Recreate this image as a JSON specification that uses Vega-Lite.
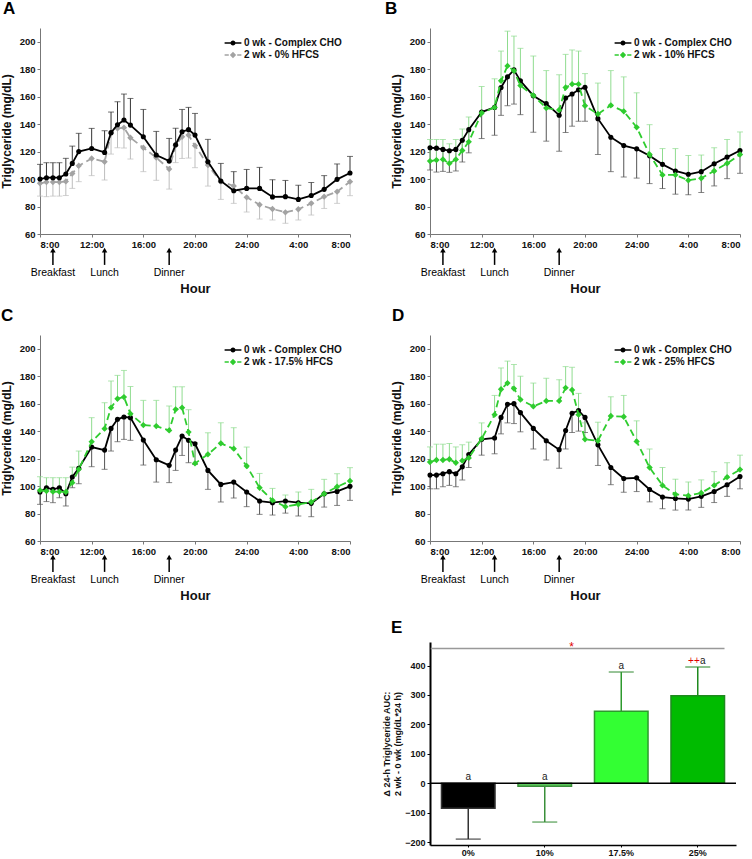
{
  "$schema": "https://vega.github.io/schema/vega-lite/v6.json",
  "padding": {"left": 0, "top": 0, "right": 5, "bottom": 0},
  "columns": 2,
  "spacing": {"row": 101, "column": 80},
  "bounds": "flush",
  "resolve": {"scale": {"color": "independent", "fill": "independent", "stroke": "independent", "shape": "independent", "size": "independent", "strokeDash": "independent"}},
  "config": {
    "font": "Liberation Sans",
    "view": {"stroke": null},
    "axis": {"grid": false, "labelOverlap": false, "labelFont": "Liberation Sans", "labelFontSize": 9.5, "labelFontWeight": "bold", "labelColor": "#111", "domainColor": "#777", "tickColor": "#777", "tickSize": 3, "labelPadding": 2, "titleFont": "Liberation Sans", "titleFontWeight": "bold", "titleColor": "#111"},
    "legend": {"labelFont": "Liberation Sans", "labelFontSize": 10, "labelFontWeight": "bold", "labelColor": "#111", "rowPadding": 0, "labelOffset": 4, "symbolStrokeWidth": 0, "symbolSize": 196, "symbolOpacity": 1, "orient": "top-right", "offset": 8},
    "title": {"anchor": "start", "fontSize": 17, "fontWeight": "bold", "frame": "group", "offset": 10, "baseline": "alphabetic", "color": "#000"}
  },
  "datasets": {
    "meals": [{"hour": 1, "meal": "Breakfast"}, {"hour": 5, "meal": "Lunch"}, {"hour": 10, "meal": "Dinner"}],
    "A": [
      {"hour":0,"series":"0 wk - Complex CHO","mean":100,"bar":110.7},
      {"hour":0.5,"series":"0 wk - Complex CHO","mean":101,"bar":111.9},
      {"hour":1,"series":"0 wk - Complex CHO","mean":101,"bar":111.9},
      {"hour":1.5,"series":"0 wk - Complex CHO","mean":101,"bar":111.9},
      {"hour":2,"series":"0 wk - Complex CHO","mean":103.7,"bar":115.1},
      {"hour":2.5,"series":"0 wk - Complex CHO","mean":111.4,"bar":124},
      {"hour":3,"series":"0 wk - Complex CHO","mean":120,"bar":133.3},
      {"hour":4,"series":"0 wk - Complex CHO","mean":122.3,"bar":136.9},
      {"hour":5,"series":"0 wk - Complex CHO","mean":119.4,"bar":135.2},
      {"hour":5.5,"series":"0 wk - Complex CHO","mean":133.8,"bar":148.8},
      {"hour":6,"series":"0 wk - Complex CHO","mean":139.6,"bar":156.3},
      {"hour":6.5,"series":"0 wk - Complex CHO","mean":143,"bar":161.9},
      {"hour":7,"series":"0 wk - Complex CHO","mean":139.3,"bar":158.7},
      {"hour":8,"series":"0 wk - Complex CHO","mean":130.8,"bar":150.7},
      {"hour":9,"series":"0 wk - Complex CHO","mean":117.5,"bar":134.7},
      {"hour":10,"series":"0 wk - Complex CHO","mean":113.1,"bar":129.6},
      {"hour":10.5,"series":"0 wk - Complex CHO","mean":125,"bar":137},
      {"hour":11,"series":"0 wk - Complex CHO","mean":134.5,"bar":150.7},
      {"hour":11.5,"series":"0 wk - Complex CHO","mean":136,"bar":152.2},
      {"hour":12,"series":"0 wk - Complex CHO","mean":132,"bar":147.8},
      {"hour":13,"series":"0 wk - Complex CHO","mean":112.6,"bar":128.9},
      {"hour":14,"series":"0 wk - Complex CHO","mean":98.6,"bar":111.4},
      {"hour":15,"series":"0 wk - Complex CHO","mean":91.5,"bar":105.4},
      {"hour":16,"series":"0 wk - Complex CHO","mean":93.2,"bar":107},
      {"hour":17,"series":"0 wk - Complex CHO","mean":93.2,"bar":108.5},
      {"hour":18,"series":"0 wk - Complex CHO","mean":87,"bar":99.5},
      {"hour":19,"series":"0 wk - Complex CHO","mean":87.2,"bar":99},
      {"hour":20,"series":"0 wk - Complex CHO","mean":85.2,"bar":95.5},
      {"hour":21,"series":"0 wk - Complex CHO","mean":88,"bar":97.5},
      {"hour":22,"series":"0 wk - Complex CHO","mean":92.5,"bar":102.5},
      {"hour":23,"series":"0 wk - Complex CHO","mean":99.8,"bar":111},
      {"hour":24,"series":"0 wk - Complex CHO","mean":104.4,"bar":116.5},
      {"hour":0,"series":"2 wk - 0% HFCS","mean":96.9,"bar":87.6},
      {"hour":0.5,"series":"2 wk - 0% HFCS","mean":97.8,"bar":87.2},
      {"hour":1,"series":"2 wk - 0% HFCS","mean":97.8,"bar":87.6},
      {"hour":1.5,"series":"2 wk - 0% HFCS","mean":97.8,"bar":87.6},
      {"hour":2,"series":"2 wk - 0% HFCS","mean":98.3,"bar":88},
      {"hour":2.5,"series":"2 wk - 0% HFCS","mean":104,"bar":93.2},
      {"hour":3,"series":"2 wk - 0% HFCS","mean":109.7,"bar":98.1},
      {"hour":4,"series":"2 wk - 0% HFCS","mean":115,"bar":102.5},
      {"hour":5,"series":"2 wk - 0% HFCS","mean":112.6,"bar":99.3},
      {"hour":5.5,"series":"2 wk - 0% HFCS","mean":133.3,"bar":118.2},
      {"hour":6,"series":"2 wk - 0% HFCS","mean":136.9,"bar":122.8},
      {"hour":6.5,"series":"2 wk - 0% HFCS","mean":137.4,"bar":122.6},
      {"hour":7,"series":"2 wk - 0% HFCS","mean":130.1,"bar":114.6},
      {"hour":8,"series":"2 wk - 0% HFCS","mean":122.8,"bar":105.4},
      {"hour":9,"series":"2 wk - 0% HFCS","mean":115.6,"bar":99.1},
      {"hour":10,"series":"2 wk - 0% HFCS","mean":107.3,"bar":92.7},
      {"hour":10.5,"series":"2 wk - 0% HFCS","mean":124.5,"bar":112},
      {"hour":11,"series":"2 wk - 0% HFCS","mean":130.8,"bar":115},
      {"hour":11.5,"series":"2 wk - 0% HFCS","mean":132,"bar":115.3},
      {"hour":12,"series":"2 wk - 0% HFCS","mean":124.3,"bar":108.3},
      {"hour":13,"series":"2 wk - 0% HFCS","mean":110.2,"bar":94.9},
      {"hour":14,"series":"2 wk - 0% HFCS","mean":98.1,"bar":85.2},
      {"hour":15,"series":"2 wk - 0% HFCS","mean":95,"bar":82.3},
      {"hour":16,"series":"2 wk - 0% HFCS","mean":86.7,"bar":76},
      {"hour":17,"series":"2 wk - 0% HFCS","mean":81.3,"bar":70.9},
      {"hour":18,"series":"2 wk - 0% HFCS","mean":78.2,"bar":70.2},
      {"hour":19,"series":"2 wk - 0% HFCS","mean":75.8,"bar":67.8},
      {"hour":20,"series":"2 wk - 0% HFCS","mean":78,"bar":70.2},
      {"hour":21,"series":"2 wk - 0% HFCS","mean":82.3,"bar":73.8},
      {"hour":22,"series":"2 wk - 0% HFCS","mean":87.2,"bar":78.6},
      {"hour":23,"series":"2 wk - 0% HFCS","mean":90.8,"bar":82.3},
      {"hour":24,"series":"2 wk - 0% HFCS","mean":98.1,"bar":87.9}
    ],
    "B": [
      {"hour":0,"series":"0 wk - Complex CHO","mean":122.8,"bar":106.6},
      {"hour":0.5,"series":"0 wk - Complex CHO","mean":122.5,"bar":105.1},
      {"hour":1,"series":"0 wk - Complex CHO","mean":121.6,"bar":105.6},
      {"hour":1.5,"series":"0 wk - Complex CHO","mean":120.6,"bar":104.9},
      {"hour":2,"series":"0 wk - Complex CHO","mean":121.6,"bar":105.9},
      {"hour":2.5,"series":"0 wk - Complex CHO","mean":128.3,"bar":112.4},
      {"hour":3,"series":"0 wk - Complex CHO","mean":136,"bar":119.1},
      {"hour":4,"series":"0 wk - Complex CHO","mean":148.8,"bar":129.5},
      {"hour":5,"series":"0 wk - Complex CHO","mean":152.2,"bar":131.9},
      {"hour":5.5,"series":"0 wk - Complex CHO","mean":166.7,"bar":146.4},
      {"hour":6,"series":"0 wk - Complex CHO","mean":174.4,"bar":153.4},
      {"hour":6.5,"series":"0 wk - Complex CHO","mean":179.5,"bar":154.6},
      {"hour":7,"series":"0 wk - Complex CHO","mean":171.5,"bar":146.9},
      {"hour":8,"series":"0 wk - Complex CHO","mean":160.7,"bar":134.1},
      {"hour":9,"series":"0 wk - Complex CHO","mean":154.9,"bar":127.6},
      {"hour":10,"series":"0 wk - Complex CHO","mean":146.5,"bar":120.3},
      {"hour":10.5,"series":"0 wk - Complex CHO","mean":159,"bar":133.9},
      {"hour":11,"series":"0 wk - Complex CHO","mean":161.9,"bar":138.5},
      {"hour":11.5,"series":"0 wk - Complex CHO","mean":165,"bar":142.1},
      {"hour":12,"series":"0 wk - Complex CHO","mean":166.9,"bar":142.1},
      {"hour":13,"series":"0 wk - Complex CHO","mean":144,"bar":117.9},
      {"hour":14,"series":"0 wk - Complex CHO","mean":130.5,"bar":105.4},
      {"hour":15,"series":"0 wk - Complex CHO","mean":124.4,"bar":101.5},
      {"hour":16,"series":"0 wk - Complex CHO","mean":122,"bar":100.7},
      {"hour":17,"series":"0 wk - Complex CHO","mean":117,"bar":96.7},
      {"hour":18,"series":"0 wk - Complex CHO","mean":110.7,"bar":93.1},
      {"hour":19,"series":"0 wk - Complex CHO","mean":105.9,"bar":89},
      {"hour":20,"series":"0 wk - Complex CHO","mean":103.5,"bar":88.5},
      {"hour":21,"series":"0 wk - Complex CHO","mean":105.4,"bar":90.2},
      {"hour":22,"series":"0 wk - Complex CHO","mean":111.2,"bar":95},
      {"hour":23,"series":"0 wk - Complex CHO","mean":116,"bar":100.3},
      {"hour":24,"series":"0 wk - Complex CHO","mean":120.8,"bar":104.2},
      {"hour":0,"series":"2 wk - 10% HFCS","mean":113.1,"bar":128.8},
      {"hour":0.5,"series":"2 wk - 10% HFCS","mean":113.8,"bar":128.8},
      {"hour":1,"series":"2 wk - 10% HFCS","mean":114.3,"bar":128.8},
      {"hour":1.5,"series":"2 wk - 10% HFCS","mean":111.4,"bar":125.7},
      {"hour":2,"series":"2 wk - 10% HFCS","mean":114.3,"bar":128.8},
      {"hour":2.5,"series":"2 wk - 10% HFCS","mean":120.8,"bar":136.5},
      {"hour":3,"series":"2 wk - 10% HFCS","mean":127.1,"bar":145.2},
      {"hour":4,"series":"2 wk - 10% HFCS","mean":148.1,"bar":167.4},
      {"hour":5,"series":"2 wk - 10% HFCS","mean":152.2,"bar":173},
      {"hour":5.5,"series":"2 wk - 10% HFCS","mean":171.5,"bar":193.2},
      {"hour":6,"series":"2 wk - 10% HFCS","mean":182.4,"bar":207.7},
      {"hour":6.5,"series":"2 wk - 10% HFCS","mean":178.8,"bar":204.1},
      {"hour":7,"series":"2 wk - 10% HFCS","mean":168.1,"bar":195.2},
      {"hour":8,"series":"2 wk - 10% HFCS","mean":160.9,"bar":189.6},
      {"hour":9,"series":"2 wk - 10% HFCS","mean":151.7,"bar":179},
      {"hour":10,"series":"2 wk - 10% HFCS","mean":150.3,"bar":175.9},
      {"hour":10.5,"series":"2 wk - 10% HFCS","mean":166.7,"bar":190.8},
      {"hour":11,"series":"2 wk - 10% HFCS","mean":169.1,"bar":194},
      {"hour":11.5,"series":"2 wk - 10% HFCS","mean":169.1,"bar":193.2},
      {"hour":12,"series":"2 wk - 10% HFCS","mean":153.4,"bar":176.8},
      {"hour":13,"series":"2 wk - 10% HFCS","mean":147.4,"bar":169.9},
      {"hour":14,"series":"2 wk - 10% HFCS","mean":153.7,"bar":179},
      {"hour":15,"series":"2 wk - 10% HFCS","mean":149.3,"bar":174.4},
      {"hour":16,"series":"2 wk - 10% HFCS","mean":137.7,"bar":162.8},
      {"hour":17,"series":"2 wk - 10% HFCS","mean":117.9,"bar":139.6},
      {"hour":18,"series":"2 wk - 10% HFCS","mean":103,"bar":122.2},
      {"hour":19,"series":"2 wk - 10% HFCS","mean":103,"bar":122.2},
      {"hour":20,"series":"2 wk - 10% HFCS","mean":99.1,"bar":117.2},
      {"hour":21,"series":"2 wk - 10% HFCS","mean":100.6,"bar":117.5},
      {"hour":22,"series":"2 wk - 10% HFCS","mean":105.9,"bar":122.8},
      {"hour":23,"series":"2 wk - 10% HFCS","mean":111.4,"bar":128.8},
      {"hour":24,"series":"2 wk - 10% HFCS","mean":117.9,"bar":134.3}
    ],
    "C": [
      {"hour":0,"series":"0 wk - Complex CHO","mean":95.7,"bar":86.7},
      {"hour":0.5,"series":"0 wk - Complex CHO","mean":98.8,"bar":88.7},
      {"hour":1,"series":"0 wk - Complex CHO","mean":97.6,"bar":87.9},
      {"hour":1.5,"series":"0 wk - Complex CHO","mean":98.8,"bar":91.5},
      {"hour":2,"series":"0 wk - Complex CHO","mean":94.4,"bar":85.5},
      {"hour":2.5,"series":"0 wk - Complex CHO","mean":106.6,"bar":98.8},
      {"hour":3,"series":"0 wk - Complex CHO","mean":112.9,"bar":101.7},
      {"hour":4,"series":"0 wk - Complex CHO","mean":128.4,"bar":114.1},
      {"hour":5,"series":"0 wk - Complex CHO","mean":126.2,"bar":112.2},
      {"hour":5.5,"series":"0 wk - Complex CHO","mean":142,"bar":125.5},
      {"hour":6,"series":"0 wk - Complex CHO","mean":148.6,"bar":132.3},
      {"hour":6.5,"series":"0 wk - Complex CHO","mean":150.3,"bar":134},
      {"hour":7,"series":"0 wk - Complex CHO","mean":149.8,"bar":133.3},
      {"hour":8,"series":"0 wk - Complex CHO","mean":133.5,"bar":115.3},
      {"hour":9,"series":"0 wk - Complex CHO","mean":119.2,"bar":102.9},
      {"hour":10,"series":"0 wk - Complex CHO","mean":115.1,"bar":102.5},
      {"hour":10.5,"series":"0 wk - Complex CHO","mean":126.2,"bar":111.4},
      {"hour":11,"series":"0 wk - Complex CHO","mean":136.4,"bar":122.3},
      {"hour":11.5,"series":"0 wk - Complex CHO","mean":133.3,"bar":117},
      {"hour":12,"series":"0 wk - Complex CHO","mean":130.8,"bar":115.8},
      {"hour":13,"series":"0 wk - Complex CHO","mean":111.4,"bar":97.6},
      {"hour":14,"series":"0 wk - Complex CHO","mean":101.2,"bar":88.4},
      {"hour":15,"series":"0 wk - Complex CHO","mean":102.9,"bar":91.3},
      {"hour":16,"series":"0 wk - Complex CHO","mean":95.7,"bar":85},
      {"hour":17,"series":"0 wk - Complex CHO","mean":89.1,"bar":79.4},
      {"hour":18,"series":"0 wk - Complex CHO","mean":87.9,"bar":78.9},
      {"hour":19,"series":"0 wk - Complex CHO","mean":89.1,"bar":80.3},
      {"hour":20,"series":"0 wk - Complex CHO","mean":87.9,"bar":78.2},
      {"hour":21,"series":"0 wk - Complex CHO","mean":87.4,"bar":77.7},
      {"hour":22,"series":"0 wk - Complex CHO","mean":94.4,"bar":84.7},
      {"hour":23,"series":"0 wk - Complex CHO","mean":96.1,"bar":85.9},
      {"hour":24,"series":"0 wk - Complex CHO","mean":99.8,"bar":89.6},
      {"hour":0,"series":"2 wk - 17.5% HFCS","mean":96.9,"bar":106.8},
      {"hour":0.5,"series":"2 wk - 17.5% HFCS","mean":96.4,"bar":106.1},
      {"hour":1,"series":"2 wk - 17.5% HFCS","mean":95.9,"bar":106.1},
      {"hour":1.5,"series":"2 wk - 17.5% HFCS","mean":95.9,"bar":106.1},
      {"hour":2,"series":"2 wk - 17.5% HFCS","mean":95.7,"bar":106.1},
      {"hour":2.5,"series":"2 wk - 17.5% HFCS","mean":102.5,"bar":113.8},
      {"hour":3,"series":"2 wk - 17.5% HFCS","mean":112.2,"bar":125.5},
      {"hour":4,"series":"2 wk - 17.5% HFCS","mean":132.3,"bar":149.8},
      {"hour":5,"series":"2 wk - 17.5% HFCS","mean":141.8,"bar":160.7},
      {"hour":5.5,"series":"2 wk - 17.5% HFCS","mean":157.1,"bar":176.5},
      {"hour":6,"series":"2 wk - 17.5% HFCS","mean":163.6,"bar":180.6},
      {"hour":6.5,"series":"2 wk - 17.5% HFCS","mean":164.8,"bar":184.2},
      {"hour":7,"series":"2 wk - 17.5% HFCS","mean":152.7,"bar":172.5},
      {"hour":8,"series":"2 wk - 17.5% HFCS","mean":144.4,"bar":162.4},
      {"hour":9,"series":"2 wk - 17.5% HFCS","mean":143.7,"bar":162.4},
      {"hour":10,"series":"2 wk - 17.5% HFCS","mean":140.5,"bar":158.3},
      {"hour":10.5,"series":"2 wk - 17.5% HFCS","mean":155.8,"bar":172.3},
      {"hour":11,"series":"2 wk - 17.5% HFCS","mean":157.1,"bar":172.3},
      {"hour":11.5,"series":"2 wk - 17.5% HFCS","mean":139.3,"bar":155.6},
      {"hour":12,"series":"2 wk - 17.5% HFCS","mean":116.5,"bar":131.6},
      {"hour":13,"series":"2 wk - 17.5% HFCS","mean":123.1,"bar":138.8},
      {"hour":14,"series":"2 wk - 17.5% HFCS","mean":131.1,"bar":146.1},
      {"hour":15,"series":"2 wk - 17.5% HFCS","mean":127.2,"bar":142.5},
      {"hour":16,"series":"2 wk - 17.5% HFCS","mean":114.6,"bar":128.4},
      {"hour":17,"series":"2 wk - 17.5% HFCS","mean":98.8,"bar":109.2},
      {"hour":18,"series":"2 wk - 17.5% HFCS","mean":89.6,"bar":98.3},
      {"hour":19,"series":"2 wk - 17.5% HFCS","mean":85,"bar":93.5},
      {"hour":20,"series":"2 wk - 17.5% HFCS","mean":86.7,"bar":95.7},
      {"hour":21,"series":"2 wk - 17.5% HFCS","mean":88.4,"bar":97.6},
      {"hour":22,"series":"2 wk - 17.5% HFCS","mean":94.4,"bar":104.9},
      {"hour":23,"series":"2 wk - 17.5% HFCS","mean":99.5,"bar":109},
      {"hour":24,"series":"2 wk - 17.5% HFCS","mean":103.7,"bar":113.4}
    ],
    "D": [
      {"hour":0,"series":"0 wk - Complex CHO","mean":108,"bar":98},
      {"hour":0.5,"series":"0 wk - Complex CHO","mean":108,"bar":98},
      {"hour":1,"series":"0 wk - Complex CHO","mean":109,"bar":99.5},
      {"hour":1.5,"series":"0 wk - Complex CHO","mean":110.5,"bar":100.5},
      {"hour":2,"series":"0 wk - Complex CHO","mean":109,"bar":99.5},
      {"hour":2.5,"series":"0 wk - Complex CHO","mean":114,"bar":104.5},
      {"hour":3,"series":"0 wk - Complex CHO","mean":123,"bar":113.5},
      {"hour":4,"series":"0 wk - Complex CHO","mean":134,"bar":122.5},
      {"hour":5,"series":"0 wk - Complex CHO","mean":135,"bar":123.5},
      {"hour":5.5,"series":"0 wk - Complex CHO","mean":150,"bar":138},
      {"hour":6,"series":"0 wk - Complex CHO","mean":159.5,"bar":146},
      {"hour":6.5,"series":"0 wk - Complex CHO","mean":160,"bar":145.5},
      {"hour":7,"series":"0 wk - Complex CHO","mean":153.5,"bar":139.5},
      {"hour":8,"series":"0 wk - Complex CHO","mean":142,"bar":127},
      {"hour":9,"series":"0 wk - Complex CHO","mean":133,"bar":119},
      {"hour":10,"series":"0 wk - Complex CHO","mean":126.5,"bar":113},
      {"hour":10.5,"series":"0 wk - Complex CHO","mean":140.5,"bar":127},
      {"hour":11,"series":"0 wk - Complex CHO","mean":153,"bar":139},
      {"hour":11.5,"series":"0 wk - Complex CHO","mean":155,"bar":140},
      {"hour":12,"series":"0 wk - Complex CHO","mean":150,"bar":139},
      {"hour":13,"series":"0 wk - Complex CHO","mean":130,"bar":115},
      {"hour":14,"series":"0 wk - Complex CHO","mean":113.5,"bar":101},
      {"hour":15,"series":"0 wk - Complex CHO","mean":105.5,"bar":95.5},
      {"hour":16,"series":"0 wk - Complex CHO","mean":106,"bar":96},
      {"hour":17,"series":"0 wk - Complex CHO","mean":97.5,"bar":88.5},
      {"hour":18,"series":"0 wk - Complex CHO","mean":92,"bar":83.5},
      {"hour":19,"series":"0 wk - Complex CHO","mean":91,"bar":82.5},
      {"hour":20,"series":"0 wk - Complex CHO","mean":90.5,"bar":82.5},
      {"hour":21,"series":"0 wk - Complex CHO","mean":92.5,"bar":84.5},
      {"hour":22,"series":"0 wk - Complex CHO","mean":96,"bar":88},
      {"hour":23,"series":"0 wk - Complex CHO","mean":101,"bar":92.5},
      {"hour":24,"series":"0 wk - Complex CHO","mean":107,"bar":98},
      {"hour":0,"series":"2 wk - 25% HFCS","mean":117.5,"bar":128.5},
      {"hour":0.5,"series":"2 wk - 25% HFCS","mean":119,"bar":130.5},
      {"hour":1,"series":"2 wk - 25% HFCS","mean":119,"bar":130.5},
      {"hour":1.5,"series":"2 wk - 25% HFCS","mean":119.5,"bar":131},
      {"hour":2,"series":"2 wk - 25% HFCS","mean":117,"bar":128.5},
      {"hour":2.5,"series":"2 wk - 25% HFCS","mean":118.5,"bar":130},
      {"hour":3,"series":"2 wk - 25% HFCS","mean":120.5,"bar":132},
      {"hour":4,"series":"2 wk - 25% HFCS","mean":134.5,"bar":146},
      {"hour":5,"series":"2 wk - 25% HFCS","mean":152,"bar":166},
      {"hour":5.5,"series":"2 wk - 25% HFCS","mean":170.5,"bar":186},
      {"hour":6,"series":"2 wk - 25% HFCS","mean":175,"bar":191},
      {"hour":6.5,"series":"2 wk - 25% HFCS","mean":171,"bar":188.5},
      {"hour":7,"series":"2 wk - 25% HFCS","mean":163,"bar":180},
      {"hour":8,"series":"2 wk - 25% HFCS","mean":158,"bar":175},
      {"hour":9,"series":"2 wk - 25% HFCS","mean":162,"bar":178.5},
      {"hour":10,"series":"2 wk - 25% HFCS","mean":162,"bar":177.5},
      {"hour":10.5,"series":"2 wk - 25% HFCS","mean":171.5,"bar":187},
      {"hour":11,"series":"2 wk - 25% HFCS","mean":170,"bar":186.5},
      {"hour":11.5,"series":"2 wk - 25% HFCS","mean":152,"bar":167.5},
      {"hour":12,"series":"2 wk - 25% HFCS","mean":134,"bar":146},
      {"hour":13,"series":"2 wk - 25% HFCS","mean":133,"bar":146.5},
      {"hour":14,"series":"2 wk - 25% HFCS","mean":151,"bar":165},
      {"hour":15,"series":"2 wk - 25% HFCS","mean":150.5,"bar":166},
      {"hour":16,"series":"2 wk - 25% HFCS","mean":132.5,"bar":147.5},
      {"hour":17,"series":"2 wk - 25% HFCS","mean":113.5,"bar":127},
      {"hour":18,"series":"2 wk - 25% HFCS","mean":100.5,"bar":113.5},
      {"hour":19,"series":"2 wk - 25% HFCS","mean":94,"bar":105},
      {"hour":20,"series":"2 wk - 25% HFCS","mean":93,"bar":103},
      {"hour":21,"series":"2 wk - 25% HFCS","mean":95,"bar":104.5},
      {"hour":22,"series":"2 wk - 25% HFCS","mean":100.5,"bar":110.5},
      {"hour":23,"series":"2 wk - 25% HFCS","mean":106.5,"bar":117},
      {"hour":24,"series":"2 wk - 25% HFCS","mean":112,"bar":122.5}
    ],
    "E": [
      {"group": "0%", "value": -85, "err": -190, "letter": "a", "sig": ""},
      {"group": "10%", "value": -10, "err": -132, "letter": "a", "sig": ""},
      {"group": "17.5%", "value": 245, "err": 378, "letter": "a", "sig": ""},
      {"group": "25%", "value": 297, "err": 395, "letter": "a", "sig": "++"}
    ]
  },
  "concat": [
    {
      "width": 310, "height": 206,
      "title": {"text": "A", "dx": -37},
      "data": {"name": "A"},
      "encoding": {
        "x": {"field": "hour", "type": "quantitative", "scale": {"domain": [0, 24], "nice": false}, "axis": {"title": "Hour", "values": [0, 4, 8, 12, 16, 20, 24], "labelExpr": "(datum.value + 8 > 24 ? datum.value - 16 : datum.value + 8) + ':00'", "titleFontSize": 13, "titlePadding": 34}}
      },
      "layer": [
        {"transform": [{"filter": "datum.hour < 0"}], "mark": {"type": "point", "filled": true, "opacity": 1}, "encoding": {"y": {"field": "mean", "type": "quantitative", "scale": {"domain": [60, 210], "nice": false}, "axis": {"title": "Triglyceride (mg/dL)", "values": [60, 80, 100, 120, 140, 160, 180, 200], "titleFontSize": 12, "titlePadding": 6}}, "color": {"field": "series", "type": "nominal", "scale": {"domain": ["0 wk - Complex CHO", "2 wk - 0% HFCS"], "range": ["#000000", "#a3a3a3"]}, "legend": {"title": null}}, "shape": {"field": "series", "type": "nominal", "scale": {"domain": ["0 wk - Complex CHO", "2 wk - 0% HFCS"], "range": ["M-1.2,-0.1L1.2,-0.1L1.2,0.1L-1.2,0.1Z M0.36,0A0.36,0.36 0 1,1 -0.36,0A0.36,0.36 0 1,1 0.36,0Z", "M-1.2,-0.11L-0.6,-0.11L-0.6,0.11L-1.2,0.11Z M0.6,-0.11L1.2,-0.11L1.2,0.11L0.6,0.11Z M0,-0.45L0.45,0L0,0.45L-0.45,0Z"]}, "legend": {"title": null}}}},
        {"transform": [{"filter": "datum.series === '0 wk - Complex CHO'"}], "mark": {"type": "rule", "strokeWidth": 1, "color": "#333333"}, "encoding": {"y": {"field": "mean", "type": "quantitative", "scale": {"domain": [60, 210], "nice": false}, "axis": {"title": "Triglyceride (mg/dL)", "values": [60, 80, 100, 120, 140, 160, 180, 200], "titleFontSize": 12, "titlePadding": 6}}, "y2": {"field": "bar"}}},
        {"transform": [{"filter": "datum.series !== '0 wk - Complex CHO'"}], "mark": {"type": "rule", "strokeWidth": 1, "color": "#bdbdbd"}, "encoding": {"y": {"field": "mean", "type": "quantitative", "scale": {"domain": [60, 210], "nice": false}, "axis": {"title": "Triglyceride (mg/dL)", "values": [60, 80, 100, 120, 140, 160, 180, 200], "titleFontSize": 12, "titlePadding": 6}}, "y2": {"field": "bar"}}},
        {"transform": [{"filter": "datum.series === '0 wk - Complex CHO'"}], "mark": {"type": "tick", "orient": "horizontal", "size": 6, "thickness": 1, "color": "#333333"}, "encoding": {"y": {"field": "bar", "type": "quantitative", "scale": {"domain": [60, 210], "nice": false}, "axis": {"title": "Triglyceride (mg/dL)", "values": [60, 80, 100, 120, 140, 160, 180, 200], "titleFontSize": 12, "titlePadding": 6}}}},
        {"transform": [{"filter": "datum.series !== '0 wk - Complex CHO'"}], "mark": {"type": "tick", "orient": "horizontal", "size": 6, "thickness": 1, "color": "#bdbdbd"}, "encoding": {"y": {"field": "bar", "type": "quantitative", "scale": {"domain": [60, 210], "nice": false}, "axis": {"title": "Triglyceride (mg/dL)", "values": [60, 80, 100, 120, 140, 160, 180, 200], "titleFontSize": 12, "titlePadding": 6}}}},
        {"transform": [{"filter": "datum.series !== '0 wk - Complex CHO'"}], "mark": {"type": "line", "strokeWidth": 1.8, "color": "#a3a3a3", "strokeDash": [7, 4]}, "encoding": {"y": {"field": "mean", "type": "quantitative", "scale": {"domain": [60, 210], "nice": false}, "axis": {"title": "Triglyceride (mg/dL)", "values": [60, 80, 100, 120, 140, 160, 180, 200], "titleFontSize": 12, "titlePadding": 6}}}},
        {"transform": [{"filter": "datum.series !== '0 wk - Complex CHO'"}], "mark": {"type": "point", "filled": true, "opacity": 1, "shape": "diamond", "size": 40, "color": "#a3a3a3"}, "encoding": {"y": {"field": "mean", "type": "quantitative", "scale": {"domain": [60, 210], "nice": false}, "axis": {"title": "Triglyceride (mg/dL)", "values": [60, 80, 100, 120, 140, 160, 180, 200], "titleFontSize": 12, "titlePadding": 6}}}},
        {"transform": [{"filter": "datum.series === '0 wk - Complex CHO'"}], "mark": {"type": "line", "strokeWidth": 1.8, "color": "#000000"}, "encoding": {"y": {"field": "mean", "type": "quantitative", "scale": {"domain": [60, 210], "nice": false}, "axis": {"title": "Triglyceride (mg/dL)", "values": [60, 80, 100, 120, 140, 160, 180, 200], "titleFontSize": 12, "titlePadding": 6}}}},
        {"transform": [{"filter": "datum.series === '0 wk - Complex CHO'"}], "mark": {"type": "point", "filled": true, "opacity": 1, "shape": "circle", "size": 26, "color": "#000000"}, "encoding": {"y": {"field": "mean", "type": "quantitative", "scale": {"domain": [60, 210], "nice": false}, "axis": {"title": "Triglyceride (mg/dL)", "values": [60, 80, 100, 120, 140, 160, 180, 200], "titleFontSize": 12, "titlePadding": 6}}}},
        {"data": {"name": "meals"}, "mark": {"type": "rule", "strokeWidth": 1.5, "color": "#000"}, "encoding": {"y": {"datum": 37.5, "type": "quantitative", "scale": {"domain": [60, 210], "nice": false}, "axis": {"title": "Triglyceride (mg/dL)", "values": [60, 80, 100, 120, 140, 160, 180, 200], "titleFontSize": 12, "titlePadding": 6}}, "y2": {"datum": 47}}},
        {"data": {"name": "meals"}, "mark": {"type": "point", "shape": "triangle-up", "filled": true, "size": 30, "color": "#000", "opacity": 1}, "encoding": {"y": {"datum": 48.3, "type": "quantitative", "scale": {"domain": [60, 210], "nice": false}, "axis": {"title": "Triglyceride (mg/dL)", "values": [60, 80, 100, 120, 140, 160, 180, 200], "titleFontSize": 12, "titlePadding": 6}}}},
        {"data": {"name": "meals"}, "mark": {"type": "text", "fontSize": 10.5, "baseline": "middle", "color": "#000"}, "encoding": {"y": {"datum": 31.5, "type": "quantitative", "scale": {"domain": [60, 210], "nice": false}, "axis": {"title": "Triglyceride (mg/dL)", "values": [60, 80, 100, 120, 140, 160, 180, 200], "titleFontSize": 12, "titlePadding": 6}}, "text": {"field": "meal"}}}
      ]
    },
    {
      "width": 310, "height": 206,
      "title": {"text": "B", "dx": -45},
      "data": {"name": "B"},
      "encoding": {
        "x": {"field": "hour", "type": "quantitative", "scale": {"domain": [0, 24], "nice": false}, "axis": {"title": "Hour", "values": [0, 4, 8, 12, 16, 20, 24], "labelExpr": "(datum.value + 8 > 24 ? datum.value - 16 : datum.value + 8) + ':00'", "titleFontSize": 13, "titlePadding": 34}}
      },
      "layer": [
        {"transform": [{"filter": "datum.hour < 0"}], "mark": {"type": "point", "filled": true, "opacity": 1}, "encoding": {"y": {"field": "mean", "type": "quantitative", "scale": {"domain": [60, 210], "nice": false}, "axis": {"title": "Triglyceride (mg/dL)", "values": [60, 80, 100, 120, 140, 160, 180, 200], "titleFontSize": 12, "titlePadding": 6}}, "color": {"field": "series", "type": "nominal", "scale": {"domain": ["0 wk - Complex CHO", "2 wk - 10% HFCS"], "range": ["#000000", "#2fcc2f"]}, "legend": {"title": null}}, "shape": {"field": "series", "type": "nominal", "scale": {"domain": ["0 wk - Complex CHO", "2 wk - 10% HFCS"], "range": ["M-1.2,-0.1L1.2,-0.1L1.2,0.1L-1.2,0.1Z M0.36,0A0.36,0.36 0 1,1 -0.36,0A0.36,0.36 0 1,1 0.36,0Z", "M-1.2,-0.11L-0.6,-0.11L-0.6,0.11L-1.2,0.11Z M0.6,-0.11L1.2,-0.11L1.2,0.11L0.6,0.11Z M0,-0.45L0.45,0L0,0.45L-0.45,0Z"]}, "legend": {"title": null}}}},
        {"transform": [{"filter": "datum.series === '0 wk - Complex CHO'"}], "mark": {"type": "rule", "strokeWidth": 1, "color": "#555555"}, "encoding": {"y": {"field": "mean", "type": "quantitative", "scale": {"domain": [60, 210], "nice": false}, "axis": {"title": "Triglyceride (mg/dL)", "values": [60, 80, 100, 120, 140, 160, 180, 200], "titleFontSize": 12, "titlePadding": 6}}, "y2": {"field": "bar"}}},
        {"transform": [{"filter": "datum.series !== '0 wk - Complex CHO'"}], "mark": {"type": "rule", "strokeWidth": 1, "color": "#8fdc8f"}, "encoding": {"y": {"field": "mean", "type": "quantitative", "scale": {"domain": [60, 210], "nice": false}, "axis": {"title": "Triglyceride (mg/dL)", "values": [60, 80, 100, 120, 140, 160, 180, 200], "titleFontSize": 12, "titlePadding": 6}}, "y2": {"field": "bar"}}},
        {"transform": [{"filter": "datum.series === '0 wk - Complex CHO'"}], "mark": {"type": "tick", "orient": "horizontal", "size": 6, "thickness": 1, "color": "#555555"}, "encoding": {"y": {"field": "bar", "type": "quantitative", "scale": {"domain": [60, 210], "nice": false}, "axis": {"title": "Triglyceride (mg/dL)", "values": [60, 80, 100, 120, 140, 160, 180, 200], "titleFontSize": 12, "titlePadding": 6}}}},
        {"transform": [{"filter": "datum.series !== '0 wk - Complex CHO'"}], "mark": {"type": "tick", "orient": "horizontal", "size": 6, "thickness": 1, "color": "#8fdc8f"}, "encoding": {"y": {"field": "bar", "type": "quantitative", "scale": {"domain": [60, 210], "nice": false}, "axis": {"title": "Triglyceride (mg/dL)", "values": [60, 80, 100, 120, 140, 160, 180, 200], "titleFontSize": 12, "titlePadding": 6}}}},
        {"transform": [{"filter": "datum.series === '0 wk - Complex CHO'"}], "mark": {"type": "line", "strokeWidth": 1.8, "color": "#000000"}, "encoding": {"y": {"field": "mean", "type": "quantitative", "scale": {"domain": [60, 210], "nice": false}, "axis": {"title": "Triglyceride (mg/dL)", "values": [60, 80, 100, 120, 140, 160, 180, 200], "titleFontSize": 12, "titlePadding": 6}}}},
        {"transform": [{"filter": "datum.series === '0 wk - Complex CHO'"}], "mark": {"type": "point", "filled": true, "opacity": 1, "shape": "circle", "size": 26, "color": "#000000"}, "encoding": {"y": {"field": "mean", "type": "quantitative", "scale": {"domain": [60, 210], "nice": false}, "axis": {"title": "Triglyceride (mg/dL)", "values": [60, 80, 100, 120, 140, 160, 180, 200], "titleFontSize": 12, "titlePadding": 6}}}},
        {"transform": [{"filter": "datum.series !== '0 wk - Complex CHO'"}], "mark": {"type": "line", "strokeWidth": 1.8, "color": "#2fcc2f", "strokeDash": [7, 4]}, "encoding": {"y": {"field": "mean", "type": "quantitative", "scale": {"domain": [60, 210], "nice": false}, "axis": {"title": "Triglyceride (mg/dL)", "values": [60, 80, 100, 120, 140, 160, 180, 200], "titleFontSize": 12, "titlePadding": 6}}}},
        {"transform": [{"filter": "datum.series !== '0 wk - Complex CHO'"}], "mark": {"type": "point", "filled": true, "opacity": 1, "shape": "diamond", "size": 40, "color": "#2fcc2f"}, "encoding": {"y": {"field": "mean", "type": "quantitative", "scale": {"domain": [60, 210], "nice": false}, "axis": {"title": "Triglyceride (mg/dL)", "values": [60, 80, 100, 120, 140, 160, 180, 200], "titleFontSize": 12, "titlePadding": 6}}}},
        {"data": {"name": "meals"}, "mark": {"type": "rule", "strokeWidth": 1.5, "color": "#000"}, "encoding": {"y": {"datum": 37.5, "type": "quantitative", "scale": {"domain": [60, 210], "nice": false}, "axis": {"title": "Triglyceride (mg/dL)", "values": [60, 80, 100, 120, 140, 160, 180, 200], "titleFontSize": 12, "titlePadding": 6}}, "y2": {"datum": 47}}},
        {"data": {"name": "meals"}, "mark": {"type": "point", "shape": "triangle-up", "filled": true, "size": 30, "color": "#000", "opacity": 1}, "encoding": {"y": {"datum": 48.3, "type": "quantitative", "scale": {"domain": [60, 210], "nice": false}, "axis": {"title": "Triglyceride (mg/dL)", "values": [60, 80, 100, 120, 140, 160, 180, 200], "titleFontSize": 12, "titlePadding": 6}}}},
        {"data": {"name": "meals"}, "mark": {"type": "text", "fontSize": 10.5, "baseline": "middle", "color": "#000"}, "encoding": {"y": {"datum": 31.5, "type": "quantitative", "scale": {"domain": [60, 210], "nice": false}, "axis": {"title": "Triglyceride (mg/dL)", "values": [60, 80, 100, 120, 140, 160, 180, 200], "titleFontSize": 12, "titlePadding": 6}}, "text": {"field": "meal"}}}
      ]
    },
    {
      "width": 310, "height": 206,
      "title": {"text": "C", "dx": -39},
      "data": {"name": "C"},
      "encoding": {
        "x": {"field": "hour", "type": "quantitative", "scale": {"domain": [0, 24], "nice": false}, "axis": {"title": "Hour", "values": [0, 4, 8, 12, 16, 20, 24], "labelExpr": "(datum.value + 8 > 24 ? datum.value - 16 : datum.value + 8) + ':00'", "titleFontSize": 13, "titlePadding": 34}}
      },
      "layer": [
        {"transform": [{"filter": "datum.hour < 0"}], "mark": {"type": "point", "filled": true, "opacity": 1}, "encoding": {"y": {"field": "mean", "type": "quantitative", "scale": {"domain": [60, 210], "nice": false}, "axis": {"title": "Triglyceride (mg/dL)", "values": [60, 80, 100, 120, 140, 160, 180, 200], "titleFontSize": 12, "titlePadding": 6}}, "color": {"field": "series", "type": "nominal", "scale": {"domain": ["0 wk - Complex CHO", "2 wk - 17.5% HFCS"], "range": ["#000000", "#2fcc2f"]}, "legend": {"title": null}}, "shape": {"field": "series", "type": "nominal", "scale": {"domain": ["0 wk - Complex CHO", "2 wk - 17.5% HFCS"], "range": ["M-1.2,-0.1L1.2,-0.1L1.2,0.1L-1.2,0.1Z M0.36,0A0.36,0.36 0 1,1 -0.36,0A0.36,0.36 0 1,1 0.36,0Z", "M-1.2,-0.11L-0.6,-0.11L-0.6,0.11L-1.2,0.11Z M0.6,-0.11L1.2,-0.11L1.2,0.11L0.6,0.11Z M0,-0.45L0.45,0L0,0.45L-0.45,0Z"]}, "legend": {"title": null}}}},
        {"transform": [{"filter": "datum.series === '0 wk - Complex CHO'"}], "mark": {"type": "rule", "strokeWidth": 1, "color": "#555555"}, "encoding": {"y": {"field": "mean", "type": "quantitative", "scale": {"domain": [60, 210], "nice": false}, "axis": {"title": "Triglyceride (mg/dL)", "values": [60, 80, 100, 120, 140, 160, 180, 200], "titleFontSize": 12, "titlePadding": 6}}, "y2": {"field": "bar"}}},
        {"transform": [{"filter": "datum.series !== '0 wk - Complex CHO'"}], "mark": {"type": "rule", "strokeWidth": 1, "color": "#8fdc8f"}, "encoding": {"y": {"field": "mean", "type": "quantitative", "scale": {"domain": [60, 210], "nice": false}, "axis": {"title": "Triglyceride (mg/dL)", "values": [60, 80, 100, 120, 140, 160, 180, 200], "titleFontSize": 12, "titlePadding": 6}}, "y2": {"field": "bar"}}},
        {"transform": [{"filter": "datum.series === '0 wk - Complex CHO'"}], "mark": {"type": "tick", "orient": "horizontal", "size": 6, "thickness": 1, "color": "#555555"}, "encoding": {"y": {"field": "bar", "type": "quantitative", "scale": {"domain": [60, 210], "nice": false}, "axis": {"title": "Triglyceride (mg/dL)", "values": [60, 80, 100, 120, 140, 160, 180, 200], "titleFontSize": 12, "titlePadding": 6}}}},
        {"transform": [{"filter": "datum.series !== '0 wk - Complex CHO'"}], "mark": {"type": "tick", "orient": "horizontal", "size": 6, "thickness": 1, "color": "#8fdc8f"}, "encoding": {"y": {"field": "bar", "type": "quantitative", "scale": {"domain": [60, 210], "nice": false}, "axis": {"title": "Triglyceride (mg/dL)", "values": [60, 80, 100, 120, 140, 160, 180, 200], "titleFontSize": 12, "titlePadding": 6}}}},
        {"transform": [{"filter": "datum.series === '0 wk - Complex CHO'"}], "mark": {"type": "line", "strokeWidth": 1.8, "color": "#000000"}, "encoding": {"y": {"field": "mean", "type": "quantitative", "scale": {"domain": [60, 210], "nice": false}, "axis": {"title": "Triglyceride (mg/dL)", "values": [60, 80, 100, 120, 140, 160, 180, 200], "titleFontSize": 12, "titlePadding": 6}}}},
        {"transform": [{"filter": "datum.series === '0 wk - Complex CHO'"}], "mark": {"type": "point", "filled": true, "opacity": 1, "shape": "circle", "size": 26, "color": "#000000"}, "encoding": {"y": {"field": "mean", "type": "quantitative", "scale": {"domain": [60, 210], "nice": false}, "axis": {"title": "Triglyceride (mg/dL)", "values": [60, 80, 100, 120, 140, 160, 180, 200], "titleFontSize": 12, "titlePadding": 6}}}},
        {"transform": [{"filter": "datum.series !== '0 wk - Complex CHO'"}], "mark": {"type": "line", "strokeWidth": 1.8, "color": "#2fcc2f", "strokeDash": [7, 4]}, "encoding": {"y": {"field": "mean", "type": "quantitative", "scale": {"domain": [60, 210], "nice": false}, "axis": {"title": "Triglyceride (mg/dL)", "values": [60, 80, 100, 120, 140, 160, 180, 200], "titleFontSize": 12, "titlePadding": 6}}}},
        {"transform": [{"filter": "datum.series !== '0 wk - Complex CHO'"}], "mark": {"type": "point", "filled": true, "opacity": 1, "shape": "diamond", "size": 40, "color": "#2fcc2f"}, "encoding": {"y": {"field": "mean", "type": "quantitative", "scale": {"domain": [60, 210], "nice": false}, "axis": {"title": "Triglyceride (mg/dL)", "values": [60, 80, 100, 120, 140, 160, 180, 200], "titleFontSize": 12, "titlePadding": 6}}}},
        {"data": {"name": "meals"}, "mark": {"type": "rule", "strokeWidth": 1.5, "color": "#000"}, "encoding": {"y": {"datum": 37.5, "type": "quantitative", "scale": {"domain": [60, 210], "nice": false}, "axis": {"title": "Triglyceride (mg/dL)", "values": [60, 80, 100, 120, 140, 160, 180, 200], "titleFontSize": 12, "titlePadding": 6}}, "y2": {"datum": 47}}},
        {"data": {"name": "meals"}, "mark": {"type": "point", "shape": "triangle-up", "filled": true, "size": 30, "color": "#000", "opacity": 1}, "encoding": {"y": {"datum": 48.3, "type": "quantitative", "scale": {"domain": [60, 210], "nice": false}, "axis": {"title": "Triglyceride (mg/dL)", "values": [60, 80, 100, 120, 140, 160, 180, 200], "titleFontSize": 12, "titlePadding": 6}}}},
        {"data": {"name": "meals"}, "mark": {"type": "text", "fontSize": 10.5, "baseline": "middle", "color": "#000"}, "encoding": {"y": {"datum": 31.5, "type": "quantitative", "scale": {"domain": [60, 210], "nice": false}, "axis": {"title": "Triglyceride (mg/dL)", "values": [60, 80, 100, 120, 140, 160, 180, 200], "titleFontSize": 12, "titlePadding": 6}}, "text": {"field": "meal"}}}
      ]
    },
    {
      "width": 310, "height": 206,
      "title": {"text": "D", "dx": -38},
      "data": {"name": "D"},
      "encoding": {
        "x": {"field": "hour", "type": "quantitative", "scale": {"domain": [0, 24], "nice": false}, "axis": {"title": "Hour", "values": [0, 4, 8, 12, 16, 20, 24], "labelExpr": "(datum.value + 8 > 24 ? datum.value - 16 : datum.value + 8) + ':00'", "titleFontSize": 13, "titlePadding": 34}}
      },
      "layer": [
        {"transform": [{"filter": "datum.hour < 0"}], "mark": {"type": "point", "filled": true, "opacity": 1}, "encoding": {"y": {"field": "mean", "type": "quantitative", "scale": {"domain": [60, 210], "nice": false}, "axis": {"title": "Triglyceride (mg/dL)", "values": [60, 80, 100, 120, 140, 160, 180, 200], "titleFontSize": 12, "titlePadding": 6}}, "color": {"field": "series", "type": "nominal", "scale": {"domain": ["0 wk - Complex CHO", "2 wk - 25% HFCS"], "range": ["#000000", "#2fcc2f"]}, "legend": {"title": null}}, "shape": {"field": "series", "type": "nominal", "scale": {"domain": ["0 wk - Complex CHO", "2 wk - 25% HFCS"], "range": ["M-1.2,-0.1L1.2,-0.1L1.2,0.1L-1.2,0.1Z M0.36,0A0.36,0.36 0 1,1 -0.36,0A0.36,0.36 0 1,1 0.36,0Z", "M-1.2,-0.11L-0.6,-0.11L-0.6,0.11L-1.2,0.11Z M0.6,-0.11L1.2,-0.11L1.2,0.11L0.6,0.11Z M0,-0.45L0.45,0L0,0.45L-0.45,0Z"]}, "legend": {"title": null}}}},
        {"transform": [{"filter": "datum.series === '0 wk - Complex CHO'"}], "mark": {"type": "rule", "strokeWidth": 1, "color": "#555555"}, "encoding": {"y": {"field": "mean", "type": "quantitative", "scale": {"domain": [60, 210], "nice": false}, "axis": {"title": "Triglyceride (mg/dL)", "values": [60, 80, 100, 120, 140, 160, 180, 200], "titleFontSize": 12, "titlePadding": 6}}, "y2": {"field": "bar"}}},
        {"transform": [{"filter": "datum.series !== '0 wk - Complex CHO'"}], "mark": {"type": "rule", "strokeWidth": 1, "color": "#8fdc8f"}, "encoding": {"y": {"field": "mean", "type": "quantitative", "scale": {"domain": [60, 210], "nice": false}, "axis": {"title": "Triglyceride (mg/dL)", "values": [60, 80, 100, 120, 140, 160, 180, 200], "titleFontSize": 12, "titlePadding": 6}}, "y2": {"field": "bar"}}},
        {"transform": [{"filter": "datum.series === '0 wk - Complex CHO'"}], "mark": {"type": "tick", "orient": "horizontal", "size": 6, "thickness": 1, "color": "#555555"}, "encoding": {"y": {"field": "bar", "type": "quantitative", "scale": {"domain": [60, 210], "nice": false}, "axis": {"title": "Triglyceride (mg/dL)", "values": [60, 80, 100, 120, 140, 160, 180, 200], "titleFontSize": 12, "titlePadding": 6}}}},
        {"transform": [{"filter": "datum.series !== '0 wk - Complex CHO'"}], "mark": {"type": "tick", "orient": "horizontal", "size": 6, "thickness": 1, "color": "#8fdc8f"}, "encoding": {"y": {"field": "bar", "type": "quantitative", "scale": {"domain": [60, 210], "nice": false}, "axis": {"title": "Triglyceride (mg/dL)", "values": [60, 80, 100, 120, 140, 160, 180, 200], "titleFontSize": 12, "titlePadding": 6}}}},
        {"transform": [{"filter": "datum.series === '0 wk - Complex CHO'"}], "mark": {"type": "line", "strokeWidth": 1.8, "color": "#000000"}, "encoding": {"y": {"field": "mean", "type": "quantitative", "scale": {"domain": [60, 210], "nice": false}, "axis": {"title": "Triglyceride (mg/dL)", "values": [60, 80, 100, 120, 140, 160, 180, 200], "titleFontSize": 12, "titlePadding": 6}}}},
        {"transform": [{"filter": "datum.series === '0 wk - Complex CHO'"}], "mark": {"type": "point", "filled": true, "opacity": 1, "shape": "circle", "size": 26, "color": "#000000"}, "encoding": {"y": {"field": "mean", "type": "quantitative", "scale": {"domain": [60, 210], "nice": false}, "axis": {"title": "Triglyceride (mg/dL)", "values": [60, 80, 100, 120, 140, 160, 180, 200], "titleFontSize": 12, "titlePadding": 6}}}},
        {"transform": [{"filter": "datum.series !== '0 wk - Complex CHO'"}], "mark": {"type": "line", "strokeWidth": 1.8, "color": "#2fcc2f", "strokeDash": [7, 4]}, "encoding": {"y": {"field": "mean", "type": "quantitative", "scale": {"domain": [60, 210], "nice": false}, "axis": {"title": "Triglyceride (mg/dL)", "values": [60, 80, 100, 120, 140, 160, 180, 200], "titleFontSize": 12, "titlePadding": 6}}}},
        {"transform": [{"filter": "datum.series !== '0 wk - Complex CHO'"}], "mark": {"type": "point", "filled": true, "opacity": 1, "shape": "diamond", "size": 40, "color": "#2fcc2f"}, "encoding": {"y": {"field": "mean", "type": "quantitative", "scale": {"domain": [60, 210], "nice": false}, "axis": {"title": "Triglyceride (mg/dL)", "values": [60, 80, 100, 120, 140, 160, 180, 200], "titleFontSize": 12, "titlePadding": 6}}}},
        {"data": {"name": "meals"}, "mark": {"type": "rule", "strokeWidth": 1.5, "color": "#000"}, "encoding": {"y": {"datum": 37.5, "type": "quantitative", "scale": {"domain": [60, 210], "nice": false}, "axis": {"title": "Triglyceride (mg/dL)", "values": [60, 80, 100, 120, 140, 160, 180, 200], "titleFontSize": 12, "titlePadding": 6}}, "y2": {"datum": 47}}},
        {"data": {"name": "meals"}, "mark": {"type": "point", "shape": "triangle-up", "filled": true, "size": 30, "color": "#000", "opacity": 1}, "encoding": {"y": {"datum": 48.3, "type": "quantitative", "scale": {"domain": [60, 210], "nice": false}, "axis": {"title": "Triglyceride (mg/dL)", "values": [60, 80, 100, 120, 140, 160, 180, 200], "titleFontSize": 12, "titlePadding": 6}}}},
        {"data": {"name": "meals"}, "mark": {"type": "text", "fontSize": 10.5, "baseline": "middle", "color": "#000"}, "encoding": {"y": {"datum": 31.5, "type": "quantitative", "scale": {"domain": [60, 210], "nice": false}, "axis": {"title": "Triglyceride (mg/dL)", "values": [60, 80, 100, 120, 140, 160, 180, 200], "titleFontSize": 12, "titlePadding": 6}}, "text": {"field": "meal"}}}
      ]
    },
    {
      "width": 310, "height": 203,
      "data": {"name": "E"},
      "mark": {"type": "text"},
      "encoding": {"text": {"value": ""}}
    },
    {
      "width": 306, "height": 203,
      "title": {"text": "E", "dx": -39, "offset": 4},
      "data": {"name": "E"},
      "encoding": {
        "x": {"field": "group", "type": "nominal", "sort": null, "scale": {"paddingInner": 0.3, "paddingOuter": 0.15}, "axis": {"title": null, "labelAngle": 0, "domainColor": "#000", "domainWidth": 1.5, "tickColor": "#000", "tickSize": 2, "labelFontSize": 9, "labelPadding": 1}},
        "y": {"field": "value", "type": "quantitative", "scale": {"domain": [-210, 480], "nice": false}, "axis": {"title": ["Δ 24-h Triglyceride AUC:", "2 wk - 0 wk (mg/dL*24 h)"], "values": [-200, -100, 0, 100, 200, 300, 400], "domainColor": "#000", "domainWidth": 2, "tickColor": "#000", "labelFontSize": 9, "titleFontSize": 9, "titlePadding": 2, "titleLineHeight": 11}}
      },
      "layer": [
        {"mark": {"type": "rule", "strokeWidth": 1.5}, "encoding": {"y2": {"field": "err"}, "stroke": {"field": "group", "type": "nominal", "sort": null, "scale": {"domain": ["0%", "10%", "17.5%", "25%"], "range": ["#333333", "#3a8f3a", "#2e9a2e", "#1f8a1f"]}, "legend": null}}},
        {"mark": {"type": "tick", "orient": "horizontal", "size": 25, "thickness": 1.5}, "encoding": {"y": {"field": "err", "type": "quantitative", "axis": {"title": ["Δ 24-h Triglyceride AUC:", "2 wk - 0 wk (mg/dL*24 h)"], "values": [-200, -100, 0, 100, 200, 300, 400], "domainColor": "#000", "domainWidth": 2, "tickColor": "#000", "labelFontSize": 9, "titleFontSize": 9, "titlePadding": 2, "titleLineHeight": 11}}, "fill": {"field": "group", "type": "nominal", "sort": null, "scale": {"domain": ["0%", "10%", "17.5%", "25%"], "range": ["#333333", "#3a8f3a", "#3a8f3a", "#2e8b2e"]}, "legend": null}}},
        {"mark": {"type": "bar", "strokeWidth": 1.5}, "encoding": {"color": {"field": "group", "type": "nominal", "sort": null, "scale": {"domain": ["0%", "10%", "17.5%", "25%"], "range": ["#000000", "#5cc95c", "#33ff33", "#00bb00"]}, "legend": null}, "stroke": {"field": "group", "type": "nominal", "sort": null, "legend": null}}},
        {"transform": [{"filter": "datum.group === '0%'"}], "mark": {"type": "rule", "strokeWidth": 1.5, "color": "#000"}, "encoding": {"x": null, "y": {"datum": 0, "type": "quantitative", "axis": {"title": ["Δ 24-h Triglyceride AUC:", "2 wk - 0 wk (mg/dL*24 h)"], "values": [-200, -100, 0, 100, 200, 300, 400], "domainColor": "#000", "domainWidth": 2, "tickColor": "#000", "labelFontSize": 9, "titleFontSize": 9, "titlePadding": 2, "titleLineHeight": 11}}}},
        {"transform": [{"filter": "datum.group !== '25%'"}, {"calculate": "max(datum.value, datum.err, 0)", "as": "top"}], "mark": {"type": "text", "baseline": "bottom", "dy": -1, "fontSize": 10, "color": "#222"}, "encoding": {"y": {"field": "top", "type": "quantitative", "axis": {"title": ["Δ 24-h Triglyceride AUC:", "2 wk - 0 wk (mg/dL*24 h)"], "values": [-200, -100, 0, 100, 200, 300, 400], "domainColor": "#000", "domainWidth": 2, "tickColor": "#000", "labelFontSize": 9, "titleFontSize": 9, "titlePadding": 2, "titleLineHeight": 11}}, "text": {"field": "letter"}}},
        {"transform": [{"filter": "datum.group === '25%'"}], "mark": {"type": "text", "baseline": "bottom", "dy": -1, "dx": 5, "fontSize": 10, "color": "#222"}, "encoding": {"y": {"field": "err", "type": "quantitative", "axis": {"title": ["Δ 24-h Triglyceride AUC:", "2 wk - 0 wk (mg/dL*24 h)"], "values": [-200, -100, 0, 100, 200, 300, 400], "domainColor": "#000", "domainWidth": 2, "tickColor": "#000", "labelFontSize": 9, "titleFontSize": 9, "titlePadding": 2, "titleLineHeight": 11}}, "text": {"field": "letter"}}},
        {"transform": [{"filter": "datum.group === '25%'"}], "mark": {"type": "text", "baseline": "bottom", "align": "right", "dy": -1, "dx": 2, "fontSize": 10, "color": "#e00000"}, "encoding": {"y": {"field": "err", "type": "quantitative", "axis": {"title": ["Δ 24-h Triglyceride AUC:", "2 wk - 0 wk (mg/dL*24 h)"], "values": [-200, -100, 0, 100, 200, 300, 400], "domainColor": "#000", "domainWidth": 2, "tickColor": "#000", "labelFontSize": 9, "titleFontSize": 9, "titlePadding": 2, "titleLineHeight": 11}}, "text": {"field": "sig"}}},
        {"transform": [{"filter": "datum.group === '0%'"}], "mark": {"type": "rule", "strokeWidth": 1.5, "color": "#999999"}, "encoding": {"x": {"datum": "0%", "type": "nominal", "bandPosition": -0.2}, "x2": {"datum": "25%", "bandPosition": 1}, "y": {"datum": 458, "type": "quantitative", "axis": {"title": ["Δ 24-h Triglyceride AUC:", "2 wk - 0 wk (mg/dL*24 h)"], "values": [-200, -100, 0, 100, 200, 300, 400], "domainColor": "#000", "domainWidth": 2, "tickColor": "#000", "labelFontSize": 9, "titleFontSize": 9, "titlePadding": 2, "titleLineHeight": 11}}}},
        {"transform": [{"filter": "datum.group === '0%'"}], "mark": {"type": "text", "text": "*", "fontSize": 12, "baseline": "alphabetic", "dy": 3, "color": "#e00000"}, "encoding": {"x": {"datum": "10%", "type": "nominal", "bandPosition": 1}, "y": {"datum": 458, "type": "quantitative", "axis": {"title": ["Δ 24-h Triglyceride AUC:", "2 wk - 0 wk (mg/dL*24 h)"], "values": [-200, -100, 0, 100, 200, 300, 400], "domainColor": "#000", "domainWidth": 2, "tickColor": "#000", "labelFontSize": 9, "titleFontSize": 9, "titlePadding": 2, "titleLineHeight": 11}}}}
      ]
    }
  ]
}
